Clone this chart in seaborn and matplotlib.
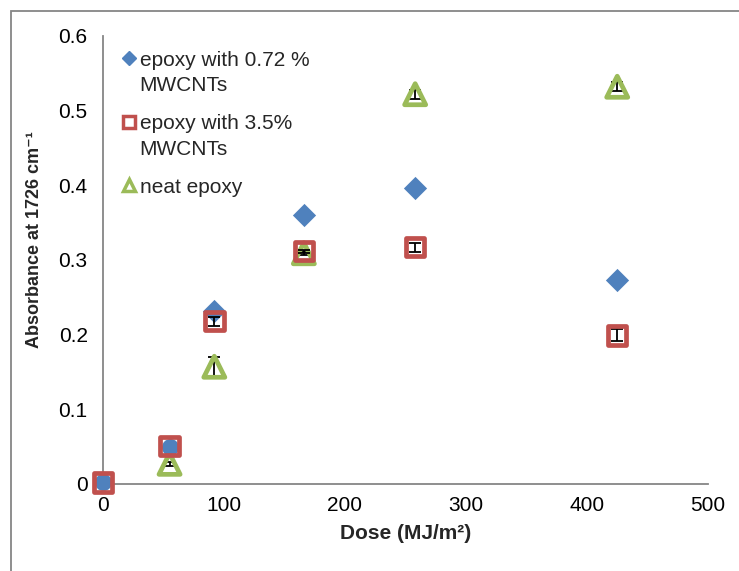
import matplotlib
matplotlib.use("Agg")
import matplotlib.pyplot as plt
import seaborn as sns
import numpy as np
import pandas as pd
from matplotlib.patches import Rectangle
from matplotlib.lines import Line2D
from matplotlib.legend_handler import HandlerLine2D

# ---- data ----
dose_a = [0, 55, 92, 166, 258, 425]
abs_072 = [0.002, 0.05, 0.231, 0.36, 0.397, 0.273]

dose_b = [0, 55, 92, 166, 258, 425]
abs_35 = [0.002, 0.051, 0.218, 0.312, 0.317, 0.199]
err_35 = [0.0, 0.0, 0.006, 0.002, 0.006, 0.008]

dose_c = [55, 92, 166, 258, 425]
abs_neat = [0.027, 0.157, 0.309, 0.522, 0.532]
err_neat = [0.003, 0.013, 0.002, 0.006, 0.006]

labels = ["epoxy with 0.72 %\nMWCNTs", "epoxy with 3.5%\nMWCNTs", "neat epoxy"]
x_ticks = [0, 100, 200, 300, 400, 500]
y_ticks = [0, 0.1, 0.2, 0.3, 0.4, 0.5, 0.6]

BLUE = "#4F81BD"
RED = "#C0504D"
GREEN = "#9BBB59"
AXC = "#868686"
FS = 15

sns.set_theme(style="white")
plt.rcParams["font.family"] = ["Liberation Sans", "DejaVu Sans"]

fig = plt.figure(figsize=(7.39, 5.71), dpi=100)
ax = fig.add_axes([0.1394, 0.1524, 0.8186, 0.7846])

# chart-area border (only left/top visible in crop)
fig.patches.append(Rectangle((11 / 739, -0.1), 1.2, 1 - 11 / 571 + 0.1,
                             transform=fig.transFigure, fill=False,
                             edgecolor=AXC, linewidth=1.3, zorder=0))

def draw_err(xs, ys, es, z):
    xs2 = [x for x, e in zip(xs, es) if e > 0]
    ys2 = [y for y, e in zip(ys, es) if e > 0]
    es2 = [e for e in es if e > 0]
    ax.errorbar(xs2, ys2, yerr=es2, fmt="none", ecolor="black",
                elinewidth=1.3, capsize=4, capthick=1.3, zorder=z, clip_on=False)

# green triangles (bottom)
draw_err(dose_c, abs_neat, err_neat, 2.5)
sns.scatterplot(x=dose_c, y=abs_neat, marker="^", s=230, facecolor="none",
                edgecolor=GREEN, linewidth=3.4, ax=ax, clip_on=False, zorder=3)
# blue (first two points rendered as circles, the rest diamonds)
sns.scatterplot(x=dose_a[:2], y=abs_072[:2], marker="o", s=150, color=BLUE,
                edgecolor=BLUE, linewidth=0, ax=ax, clip_on=False, zorder=4)
sns.scatterplot(x=dose_a[2:], y=abs_072[2:], marker="D", s=140, color=BLUE,
                edgecolor=BLUE, linewidth=0, ax=ax, clip_on=False, zorder=4)
# red hollow squares
draw_err(dose_b, abs_35, err_35, 4.5)
sns.scatterplot(x=dose_b, y=abs_35, marker="s", s=175, facecolor="none",
                edgecolor=RED, linewidth=3.4, ax=ax, clip_on=False, zorder=5)

ax.set_xlim(0, 500)
ax.set_ylim(0, 0.6)
ax.set_xticks(x_ticks)
ax.set_yticks(y_ticks)
ax.set_xticklabels([str(v) for v in x_ticks])
ax.set_yticklabels(["0"] + [f"{v:.1f}" for v in y_ticks[1:]])
ax.tick_params(axis="both", labelsize=FS, colors=AXC, labelcolor="black",
               direction="out", length=5, width=1.3, pad=6)
ax.tick_params(axis="x", pad=4)
for s in ["top", "right"]:
    ax.spines[s].set_visible(False)
for s in ["left", "bottom"]:
    ax.spines[s].set_color(AXC)
    ax.spines[s].set_linewidth(1.3)
ax.grid(False)

ax.set_xlabel("Dose (MJ/m²)", fontsize=FS, fontweight="bold", labelpad=6)
ax.set_ylabel("Absorbance at 1726 cm⁻¹", fontsize=13, fontweight="bold")
ax.yaxis.set_label_coords(-0.1, 0.545)


class RaisedHandler(HandlerLine2D):
    """Place the legend marker beside the first line of a two-line label."""
    def __init__(self, dy, **kw):
        super().__init__(**kw)
        self.dy = dy

    def create_artists(self, legend, orig_handle, xdescent, ydescent,
                       width, height, fontsize, trans):
        return super().create_artists(legend, orig_handle, xdescent,
                                      ydescent - 2 * self.dy, width, height,
                                      fontsize, trans)


handles = [
    Line2D([], [], marker="D", linestyle="none", color=BLUE, markersize=7),
    Line2D([], [], marker="s", linestyle="none", markerfacecolor="none",
           markeredgecolor=RED, markeredgewidth=2.5, markersize=9),
    Line2D([], [], marker="^", linestyle="none", markerfacecolor="none",
           markeredgecolor=GREEN, markeredgewidth=2.5, markersize=9),
]
leg = ax.legend(handles, labels, loc="upper left", bbox_to_anchor=(0.009, 1.0),
                frameon=False, fontsize=FS, handlelength=0.6, handletextpad=0.2,
                labelspacing=0.9, borderaxespad=0.3,
                handler_map={handles[0]: RaisedHandler(10.8),
                             handles[1]: RaisedHandler(10.8)})
for t in leg.get_texts():
    t.set_linespacing(1.45)

fig.savefig("out.png", dpi=100)
